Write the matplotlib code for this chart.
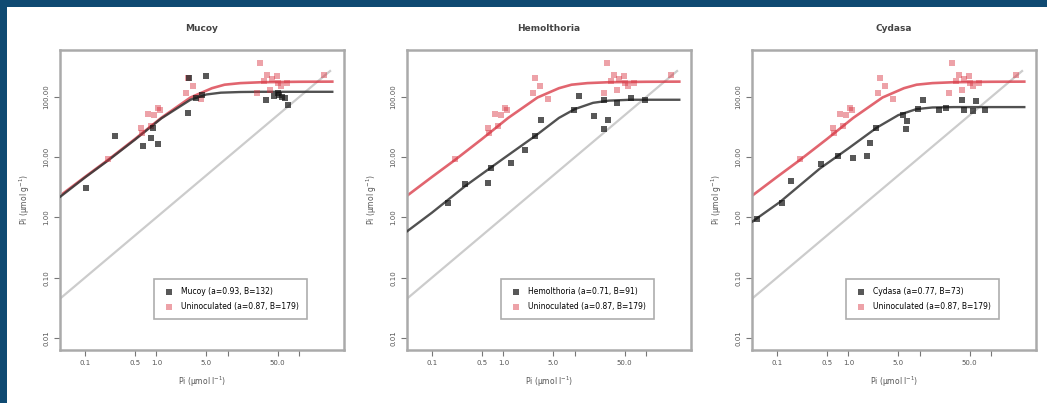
import matplotlib
matplotlib.use('Agg')
import matplotlib.pyplot as plt
from matplotlib.patches import Rectangle

# fitted curves (x in umol/l, y in umol/g)
uninoc_cx = [0.045, 0.1, 0.21, 0.5, 1.17, 3.0, 6.0, 9.0, 15, 30, 100, 290]
uninoc_cy = [2.3, 4.7, 9.0, 20, 45, 98, 140, 160, 170, 176, 179, 180]

mucoy_cx = [0.045, 0.1, 0.21, 0.5, 1.17, 3.0, 5.0, 8.0, 15, 30, 100, 290]
mucoy_cy = [2.2, 4.6, 8.8, 19.5, 44, 90, 110, 118, 121, 122, 122, 122]

hemol_cx = [0.045, 0.1, 0.3, 1.0, 3.0, 6.0, 10, 18, 30, 60, 290]
hemol_cy = [0.59, 1.2, 3.4, 9.5, 24, 45, 63, 80, 87, 90, 90]

cydas_cx = [0.045, 0.11, 0.4, 1.0, 2.5, 5.0, 9.0, 15, 30, 100, 290]
cydas_cy = [0.85, 1.8, 6.5, 14, 31, 50, 63, 67, 68, 68, 68]

one_to_one = [0.045, 270]

# observed points
uninoc_x = [0.21, 0.6, 0.62, 0.76, 0.83, 0.94, 1.04, 1.11, 2.56, 2.73, 3.3, 4.15,
            25.9, 28.5, 32.5, 35.6, 38.7, 42, 49, 50, 55, 68, 222]
uninoc_y = [9.2, 31, 25, 52, 33, 51, 66, 62, 117, 208, 150, 91,
            117, 369, 183, 236, 133, 200, 221, 172, 150, 172, 236]

mucoy_x = [0.105, 0.26, 0.65, 0.85, 1.05, 0.89, 2.76, 2.9, 4.98, 4.4, 3.6,
           34, 45, 52, 58, 63, 50, 70]
mucoy_y = [3.1, 22.4, 15.3, 21, 16.3, 30, 54.5, 208, 221, 110, 95,
           90, 103, 110, 100, 96, 115, 75]

hemol_x = [0.169, 0.29, 0.61, 0.68, 1.29, 1.98, 2.73, 3.38, 9.9, 11.6, 18.7,
           25.9, 28.7, 25.9, 61, 38.7, 95]
hemol_y = [1.75, 3.53, 3.76, 6.7, 8.1, 13.4, 22.3, 42, 62, 103, 48,
           29, 42, 90.6, 97, 80, 90.6]

cydas_x = [0.052, 0.116, 0.16, 0.42, 0.72, 1.16, 1.8, 1.98, 2.46, 5.8, 6.4, 6.7,
           11, 9.3, 18.7, 23.1, 38.7, 41.8, 55, 61, 81]
cydas_y = [0.93, 1.75, 4.0, 7.6, 10.4, 9.8, 10.4, 17.4, 30.8, 51, 29, 39.6,
           90.6, 63.5, 62, 66, 90.6, 62, 59.6, 85, 62]

titles = ['Mucoy', 'Hemolthoria', 'Cydasa']
labels = ['Mucoy (a=0.93, B=132)', 'Hemolthoria (a=0.71, B=91)', 'Cydasa (a=0.77, B=73)']
uninoc_label = 'Uninoculated (a=0.87, B=179)'

xticks = [0.1, 0.5, 1, 5, 10, 50, 100]
xticklabels = ['0.1', '0.5', '1.0', '5.0', '', '50.0', '']
yticks = [0.01, 0.1, 1, 10, 100]
yticklabels = ['0.01', '0.10', '1.00', '10.00', '100.00']

panels = [
    (mucoy_x, mucoy_y, mucoy_cx, mucoy_cy),
    (hemol_x, hemol_y, hemol_cx, hemol_cy),
    (cydas_x, cydas_y, cydas_cx, cydas_cy),
]

RED = '#d8323f'
fig = plt.figure(figsize=(10.47, 4.03), dpi=100)
fig.patch.set_facecolor('#0f4a72')
fig.patches.append(Rectangle((7 / 1047, 0), 1, 1 - 7 / 403, transform=fig.transFigure,
                             facecolor='white', edgecolor='none', zorder=-10))

lefts = [60, 407, 752]
for i, (px, py, cx, cy) in enumerate(panels):
    ax = fig.add_axes([lefts[i] / 1047, 53 / 403, 284 / 1047, 300 / 403])
    ax.set_xscale('log')
    ax.set_yscale('log')
    ax.plot(one_to_one, one_to_one, color='#cccccc', lw=1.6, zorder=1)
    ax.plot(uninoc_cx, uninoc_cy, color=RED, lw=1.9, alpha=0.75, zorder=2)
    ax.plot(cx, cy, color='#333333', lw=1.7, alpha=0.85, zorder=3)
    ax.scatter(uninoc_x, uninoc_y, marker='s', s=14, color=RED, alpha=0.45,
               linewidths=0, zorder=4, label=uninoc_label)
    ax.scatter(px, py, marker='s', s=14, color='#111111', alpha=0.7,
               linewidths=0, zorder=5, label=labels[i])
    h, l = ax.get_legend_handles_labels()
    leg = ax.legend(h[::-1], l[::-1], loc='center', bbox_to_anchor=(0.6, 0.17),
                    fontsize=5.5, frameon=True, fancybox=False, handletextpad=0.6,
                    borderpad=1.0, labelspacing=0.8, markerscale=1.0)
    leg.get_frame().set_edgecolor('#999999')
    leg.get_frame().set_linewidth(1.2)
    ax.set_xlim(0.0448, 423)
    ax.set_ylim(0.0063, 603)
    ax.set_xticks(xticks)
    ax.set_xticklabels(xticklabels)
    ax.set_yticks(yticks)
    ax.set_yticklabels(yticklabels, rotation=90, va='center')
    ax.minorticks_off()
    ax.tick_params(labelsize=5, length=4, width=0.8, color='#777777', labelcolor='#555555')
    for s in ax.spines.values():
        s.set_color('#aaaaaa')
        s.set_linewidth(1.8)
    ax.set_title(titles[i], fontsize=6.5, fontweight='bold', color='#444444', pad=14)
    ax.set_xlabel('Pi (µmol l$^{-1}$)', fontsize=5.5, color='#555555', labelpad=6)
    ax.set_ylabel('Pi (µmol g$^{-1}$)', fontsize=5.5, color='#555555', labelpad=8)

fig.savefig('out.png', dpi=100, facecolor=fig.get_facecolor())
